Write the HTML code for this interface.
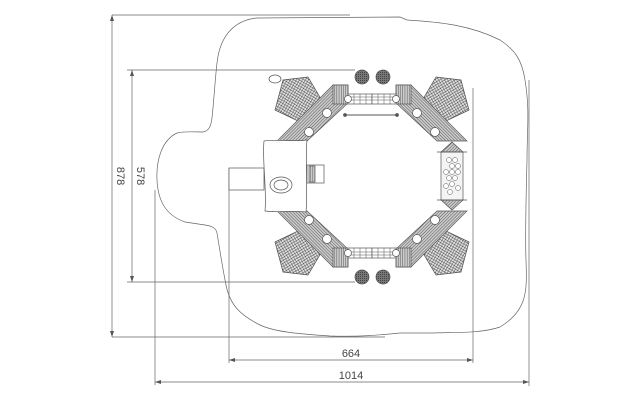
<!DOCTYPE html>
<html><head><meta charset="utf-8"><style>
html,body{margin:0;padding:0;background:#fff;}
svg{display:block;}
text{font-family:"Liberation Sans",sans-serif;fill:#444;font-size:11px;}
</style></head><body>
<svg width="638" height="402" viewBox="0 0 638 402" xmlns="http://www.w3.org/2000/svg">
<defs>
<pattern id="hatch" width="2.2" height="2.2" patternUnits="userSpaceOnUse" patternTransform="rotate(45)">
<rect width="2.2" height="2.2" fill="#ccc"/><line x1="0" y1="0" x2="0" y2="2.2" stroke="#555" stroke-width="1"/></pattern>
<pattern id="hatch2" width="2.2" height="2.2" patternUnits="userSpaceOnUse">
<rect width="2.2" height="2.2" fill="#ccc"/><line x1="0" y1="0" x2="0" y2="2.2" stroke="#555" stroke-width="1"/></pattern>
<pattern id="net" width="2.6" height="2.6" patternUnits="userSpaceOnUse" patternTransform="rotate(30)">
<rect width="2.6" height="2.6" fill="#ddd"/><path d="M0 0H2.6M0 0V2.6" stroke="#444" stroke-width="0.8"/></pattern>
<pattern id="ball" width="2" height="2" patternUnits="userSpaceOnUse">
<rect width="2" height="2" fill="#777"/><rect width="1" height="1" fill="#444"/></pattern>
<g id="quad" stroke="#555" stroke-width="0.7">
  <polygon points="275,110 283,80 308,77 324,104 300,122" fill="url(#net)"/>
  <polygon points="277,141 307,141 348,103 348,85 333,85" fill="url(#hatch)"/>
  <rect x="333" y="85" width="15" height="19" fill="url(#hatch2)"/>
  <circle cx="327" cy="113" r="4.5" fill="#fff"/>
  <circle cx="309" cy="132" r="4.5" fill="#fff"/>
  <rect x="348" y="94" width="24" height="10" fill="#fff"/>
  <path d="M348 97H372M348 100H372M360 94V104M354 94V104M366 94V104" stroke-width="0.5" fill="none"/>
  <circle cx="348" cy="99" r="3.5" fill="#fff"/>
</g>
</defs>
<g fill="none" stroke="#666" stroke-width="0.7">
<path d="M217,63 C220,35 235,20 257,18 L400,17 L407,20 C440,22 470,25 500,40 C515,50 522,60 525,80 C530,110 527,130 527,160 C526,200 525,233 526,260 C527,290 528,310 500,327 C480,334 450,332 433,333 L400,333 C380,335 360,337 330,336 C300,334 275,332 260,325 C240,315 230,305 226,285 C222,265 219,245 217,233 C216,228 212,226 205,225 L185,222 C165,215 158,200 157,180 C156,160 162,140 177,133 C185,131 195,132 203,132 C209,131 211,126 212,118 C214,100 215,80 217,63 Z"/>
<path d="M112,15V337M112,15H350M112,337H385"/>
<path d="M132,70V282M127,70H355M127,282H355"/>
<path d="M229,168V363M473,88V363M229,360H473"/>
<path d="M155,190V385M529,80V386M155,382H529"/>
</g>
<g fill="#555">
<path d="M112,15l-2,6h4zM112,337l-2,-6h4zM132,70l-2,6h4zM132,282l-2,-6h4zM229,360l6,-2v4zM473,360l-6,-2v4zM155,382l6,-2v4zM529,382l-6,-2v4z"/>
</g>
<text x="351" y="357" text-anchor="middle" font-size="12">664</text>
<text x="351" y="379" text-anchor="middle" font-size="12">1014</text>
<text transform="translate(117,176) rotate(90)" text-anchor="middle" font-size="12">878</text>
<text transform="translate(137,176) rotate(90)" text-anchor="middle" font-size="12">578</text>

<use href="#quad"/>
<use href="#quad" transform="translate(744,0) scale(-1,1)"/>
<use href="#quad" transform="translate(0,352) scale(1,-1)"/>
<use href="#quad" transform="translate(744,352) scale(-1,-1)"/>

<g stroke="#555" stroke-width="0.7">
<circle cx="362" cy="77" r="7" fill="url(#ball)"/><circle cx="383" cy="77" r="7" fill="url(#ball)"/>
<circle cx="362" cy="277" r="7" fill="url(#ball)"/><circle cx="383" cy="277" r="7" fill="url(#ball)"/>
<line x1="345" y1="115" x2="397" y2="115" stroke-width="1"/>
<circle cx="345" cy="115" r="1.5" fill="#555"/><circle cx="397" cy="115" r="1.5" fill="#555"/>
<rect x="229" y="168" width="35" height="22" fill="#fff"/>
<path d="M264,141 C275,139 295,142 307,140 C305,160 308,190 306,212 C290,210 280,213 265,211 C267,190 262,160 264,141 Z" fill="#fff"/>
<ellipse cx="281" cy="185" rx="11" ry="8" fill="#fff"/><ellipse cx="281" cy="185" rx="7" ry="5" fill="#fff"/>
<rect x="307" y="165" width="17" height="18" fill="#fff"/>
<rect x="309" y="166" width="6" height="16" fill="url(#hatch2)"/>
<polygon points="441,152 452,142 463,152" fill="url(#hatch)"/>
<polygon points="441,200 452,210 463,200" fill="url(#hatch)"/>
<rect x="441" y="152" width="22" height="48" fill="#f4f4f4"/>
<path d="M437,152H467M437,200H467"/>
<g fill="#fff" stroke-width="0.5">
<circle cx="449" cy="160" r="2.5"/><circle cx="455" cy="160" r="2.5"/><circle cx="452" cy="166" r="2.5"/><circle cx="458" cy="166" r="2.5"/>
<circle cx="446" cy="172" r="2.5"/><circle cx="452" cy="172" r="2.5"/><circle cx="458" cy="172" r="2.5"/><circle cx="449" cy="178" r="2.5"/>
<circle cx="455" cy="178" r="2.5"/><circle cx="452" cy="184" r="2.5"/><circle cx="446" cy="186" r="2.5"/><circle cx="458" cy="188" r="2.5"/><circle cx="450" cy="192" r="2.5"/>
</g>
<ellipse cx="275" cy="79" rx="6" ry="4" fill="#fff"/>
</g>
</svg>
</body></html>
